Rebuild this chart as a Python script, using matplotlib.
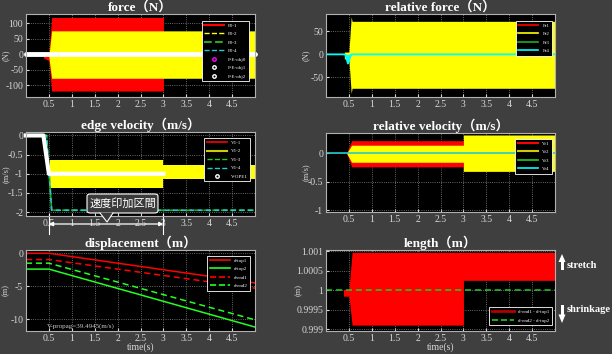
import matplotlib
matplotlib.use('Agg')
import matplotlib.pyplot as plt
import numpy as np
from matplotlib.transforms import blended_transform_factory
from matplotlib.patches import Polygon, FancyBboxPatch
from matplotlib.lines import Line2D

# ---------------- data ----------------
xticks = [0.5, 1, 1.5, 2, 2.5, 3, 3.5, 4, 4.5]
xtick_labels = ['0.5', '1', '1.5', '2', '2.5', '3', '3.5', '4', '4.5']

# force (N): envelopes of the oscillating signals
f_red_t = [0.38, 0.50, 0.56, 3.0]
f_red_hi = [0, 5, 118, 118]
f_red_lo = [-12, -20, -118, -118]
f_yel_t = [0.50, 0.56, 5.0]
f_yel_hi = [-5, 75, 75]
f_yel_lo = [-10, -77, -77]
f_white_t = [0, 5]
f_white_v = [0, 0]
force_yticks = [-100, -50, 0, 50, 100]

# relative force (N)
rf_yel_t = [0.40, 0.50, 0.55, 0.57, 5.0]
rf_yel_hi = [5, 5, 82, 72, 72]
rf_yel_lo = [-10, -10, -85, -74, -74]
rf_cyan_t = [0, 0.42, 0.48, 0.55, 5.0]
rf_cyan_v = [0, 0, -20, 0, 0]
rforce_yticks = [-50, 0, 50]

# edge velocity (m/s)
ev_yel_t = [0.52, 3.0, 3.0, 5.0]
ev_yel_hi = [-0.65, -0.65, -0.78, -0.78]
ev_yel_lo = [-1.37, -1.37, -1.13, -1.13]
ev_cyan_t = [0, 0.45, 0.56, 5.0]
ev_cyan_v = [0, 0, -1.95, -1.95]
ev_white_t = [0, 0.38, 0.50, 3.0, 3.0, 5.0]
ev_white_v = [0, 0, -1.0, -1.0, np.nan, 0]
evel_yticks = [-2, -1.5, -1, -0.5, 0]
evel_yticklabels = ['-2', '-1.5', '-1', '-0.5', '0']

# relative velocity (m/s)
rv_red_t = [0.45, 0.56, 3.0]
rv_red_hi = [0.0, 0.22, 0.22]
rv_red_lo = [0.0, -0.24, -0.24]
rv_yel_t = [0.45, 0.56, 3.0, 3.0, 5.0]
rv_yel_hi = [0.0, 0.14, 0.14, 0.32, 0.32]
rv_yel_lo = [0.0, -0.16, -0.16, -0.32, -0.32]
rv_cyan_t = [0, 5]
rv_cyan_v = [0, 0]
rvel_yticks = [-1, -0.5, 0]
rvel_yticklabels = ['-1', '-0.5', '0']

# displacement (m)
d_t = [0, 0.5, 5.0]
d_top1 = [0.0, 0.0, -4.5]
d_top2 = [-2.4, -2.4, -11.2]
d_end1 = [-0.95, -0.95, -5.3]
d_end2 = [-1.5, -1.5, -10.1]
disp_yticks = [-10, -5, 0]

# length (m)
l_red_t = [0.38, 0.50, 0.57, 3.0, 3.0, 5.0]
l_red_hi = [1.00002, 1.00002, 1.00097, 1.00097, 1.00097, 1.00097]
l_red_lo = [0.99985, 0.99985, 0.99911, 0.99911, 1.000255, 1.000255]
l_green_t = [0, 5]
l_green_v = [1.0, 1.0]
len_yticks = [0.999, 0.9995, 1.0, 1.0005, 1.001]
len_yticklabels = ['0.999', '0.9995', '1', '1.0005', '1.001']

# ---------------- figure ----------------
BG = '#3f3f3f'
SERIF = ['Liberation Serif', 'Noto Sans CJK JP']
fig = plt.figure(figsize=(6.12, 3.54), dpi=100, facecolor=BG)


def px_axes(l, t, r, b):
    return fig.add_axes([l / 612, (354 - b) / 354, (r - l) / 612, (b - t) / 354])


def style(ax, ylim, yticks, yticklabels, title, ylabel, ylabel_x, xlabel=None):
    ax.set_facecolor('black')
    ax.set_xlim(0, 5)
    ax.set_ylim(*ylim)
    ax.set_xticks(xticks)
    ax.set_xticklabels(xtick_labels)
    ax.set_yticks(yticks)
    ax.set_yticklabels(yticklabels if yticklabels is not None else [str(v) for v in yticks])
    ax.set_axisbelow(True)
    ax.grid(True, color='#8a8a8a', linestyle=':', linewidth=0.6)
    ax.tick_params(colors='#d8d8d8', labelsize=7, direction='in', length=2, pad=2)
    for lbl in ax.get_xticklabels() + ax.get_yticklabels():
        lbl.set_fontfamily(SERIF)
    for s in ax.spines.values():
        s.set_color('#b0b0b0')
        s.set_linewidth(0.8)
    ax.set_title(title, color='white', fontsize=9.5, fontweight='bold',
                 family=SERIF, pad=1.5)
    ax.text(ylabel_x, 0.5, ylabel, transform=ax.transAxes, rotation=90,
            color='#d8d8d8', fontsize=6, family=SERIF, ha='center', va='center')
    if xlabel:
        ax.set_xlabel(xlabel, color='#d8d8d8', fontsize=7, family=SERIF, labelpad=0)


def legend(ax, handles, labels, loc, anchor):
    lg = ax.legend(handles, labels, loc=loc, bbox_to_anchor=anchor,
                   facecolor='black', edgecolor='white', framealpha=1,
                   labelcolor='white', handlelength=4.0, borderpad=0.5,
                   labelspacing=0.8, fancybox=False,
                   prop={'family': 'Liberation Serif', 'size': 3.6})
    lg.get_frame().set_linewidth(0.6)
    return lg


# ----- force -----
ax1 = px_axes(26, 14, 255, 97)
ax1.fill_between(f_red_t, f_red_lo, f_red_hi, color='red', lw=0)
ax1.fill_between(f_yel_t, f_yel_lo, f_yel_hi, color='yellow', lw=0)
ax1.plot(f_white_t, f_white_v, color='white', lw=3.5, solid_capstyle='round', clip_on=False)
style(ax1, (-137, 129), force_yticks, None, 'force（N）', '(N)', -0.088)
hs = [Line2D([], [], color='red', lw=1.5),
      Line2D([], [], color='yellow', lw=1, ls='--'),
      Line2D([], [], color='#22aa22', lw=1.5, ls='--'),
      Line2D([], [], color='#22cccc', lw=1, ls='--'),
      Line2D([], [], color='magenta', lw=0, marker='o', ms=2.5, mfc='none'),
      Line2D([], [], color='white', lw=0, marker='o', ms=2.5, mfc='none'),
      Line2D([], [], color='white', lw=0, marker='o', ms=2.5, mfc='none')]
legend(ax1, hs, ['F0-1', 'F0-2', 'F0-3', 'F0-4', 'F-E-obj0', 'F-E-obj1', 'F-E-obj2'],
       'upper right', (0.985, 0.95))

# ----- relative force -----
ax2 = px_axes(326, 14, 555, 97)
ax2.fill_between(rf_yel_t, rf_yel_lo, rf_yel_hi, color='yellow', lw=0)
ax2.plot(rf_cyan_t, rf_cyan_v, color='cyan', lw=1.3)
ax2.fill_between(rf_cyan_t, rf_cyan_v, 0, color='cyan', lw=0)
style(ax2, (-93, 88), rforce_yticks, None, 'relative force（N）', '(N)', -0.09)
hs = [Line2D([], [], color='red', lw=1.2),
      Line2D([], [], color='yellow', lw=1.2),
      Line2D([], [], color='#22aa22', lw=1.2),
      Line2D([], [], color='cyan', lw=1.2)]
legend(ax2, hs, ['Fr1', 'Fr2', 'Fr3', 'Fr4'], 'upper right', (0.997, 0.95))

# ----- edge velocity -----
ax3 = px_axes(26, 132, 255, 216)
ax3.fill_between(ev_yel_t, ev_yel_lo, ev_yel_hi, color='yellow', lw=0)
ax3.plot(ev_cyan_t, ev_cyan_v, color='#22aa22', lw=1.2, ls='--')
ax3.plot(ev_cyan_t, ev_cyan_v, color='#22cccc', lw=1.2, ls='--', dashes=(3, 2))
ax3.plot(ev_white_t, ev_white_v, color='white', lw=3, clip_on=False)
style(ax3, (-2.1, 0.09), evel_yticks, evel_yticklabels, 'edge velocity（m/s）', '(m/s)', -0.088)
hs = [Line2D([], [], color='red', lw=1.2),
      Line2D([], [], color='#cccc00', lw=1.5),
      Line2D([], [], color='#22cc22', lw=1, ls='--'),
      Line2D([], [], color='#22cccc', lw=1, ls='--'),
      Line2D([], [], color='white', lw=0, marker='o', ms=2.5, mfc='none')]
legend(ax3, hs, ['V1-1', 'V1-2', 'V1-3', 'V1-4', 'V-OPE1'], 'upper right', (0.99, 0.96))


def fx(x):
    return x / 612


def fy(y):
    return (354 - y) / 354


# annotation: box + pointer + double arrow
box = FancyBboxPatch((fx(87), fy(213)), fx(158) - fx(87), fy(194) - fy(213),
                     boxstyle='round,pad=0,rounding_size=0.006', transform=fig.transFigure,
                     fc='#3a3a3a', ec='white', lw=0.8, zorder=10)
fig.add_artist(box)
tri = Polygon([[fx(100), fy(212.6)], [fx(113), fy(212.6)], [fx(107), fy(222)]],
              closed=True, transform=fig.transFigure, fc='#3a3a3a', ec='none', zorder=11)
fig.add_artist(tri)
fig.add_artist(Line2D([fx(100), fx(107), fx(113)], [fy(213), fy(222), fy(213)],
                      transform=fig.transFigure, color='white', lw=0.8, zorder=12))
fig.text(fx(122.5), fy(203.5), '速度印加区間', color='white', fontsize=8,
         family=['Noto Sans CJK JP'], ha='center', va='center', zorder=13)
bt = blended_transform_factory(ax3.transData, fig.transFigure)
ax3.annotate('', xy=(3.0, fy(224)), xytext=(0.5, fy(224)), xycoords=bt, textcoords=bt,
             arrowprops=dict(arrowstyle='<|-|>', color='white', lw=0.9,
                             mutation_scale=6, shrinkA=0, shrinkB=0),
             annotation_clip=False)
for xv in [0.5, 3.0]:
    ax3.add_line(Line2D([xv, xv], [fy(214), fy(234)], transform=bt, color='white',
                        lw=0.8, clip_on=False))

# ----- relative velocity -----
ax4 = px_axes(326, 133, 555, 212)
ax4.fill_between(rv_red_t, rv_red_lo, rv_red_hi, color='red', lw=0)
ax4.fill_between(rv_yel_t, rv_yel_lo, rv_yel_hi, color='yellow', lw=0)
ax4.plot(rv_cyan_t, rv_cyan_v, color='#22cccc', lw=1.2)
style(ax4, (-1.035, 0.355), rvel_yticks, rvel_yticklabels, 'relative velocity（m/s）', '(m/s)', -0.09)
hs = [Line2D([], [], color='red', lw=1.5),
      Line2D([], [], color='#cccc00', lw=1.5),
      Line2D([], [], color='#22cc22', lw=1.2),
      Line2D([], [], color='cyan', lw=1.2)]
legend(ax4, hs, ['Vr1', 'Vr2', 'Vr3', 'Vr4'], 'upper right', (0.997, 0.96))

# ----- displacement -----
ax5 = px_axes(26, 250, 255, 331)
ax5.plot(d_t, d_top1, color='red', lw=1.1)
ax5.plot(d_t, d_top2, color='#22ff22', lw=1.1)
ax5.plot(d_t, d_end1, color='red', lw=1.1, ls='--', dashes=(4, 2.5))
ax5.plot(d_t, d_end2, color='#22ff22', lw=1.1, ls='--', dashes=(4, 2.5))
style(ax5, (-11.8, 0.5), disp_yticks, None, 'displacement（m）', '(m)', -0.088, 'time(s)')
hs = [Line2D([], [], color='red', lw=1.2),
      Line2D([], [], color='#22ff22', lw=1.2),
      Line2D([], [], color='red', lw=1.2, ls='--'),
      Line2D([], [], color='#22ff22', lw=1.2, ls='--')]
legend(ax5, hs, ['d-top1', 'd-top2', 'd-end1', 'd-end2'], 'upper right', (0.99, 0.96))
ax5.text(0.45, -11.1, 'V-propag=39.4945(m/s)', color='#cccccc', fontsize=5,
         family=SERIF, va='center', ha='left')

# ----- length -----
ax6 = px_axes(326, 250, 555, 331)
ax6.fill_between(l_red_t, l_red_lo, l_red_hi, color='red', lw=0)
ax6.plot(l_green_t, l_green_v, color='#22cc22', lw=1.1, ls='--', dashes=(4, 2.5))
style(ax6, (0.99896, 1.00103), len_yticks, len_yticklabels, 'length（m）', '(m)', -0.12, 'time(s)')
hs = [Line2D([], [], color='#b00000', lw=2),
      Line2D([], [], color='#22cc22', lw=1.2, ls='--')]
lg = ax6.legend(hs, ['d-end1 - d-top1', 'd-end2 - d-top2'], loc='lower right',
                bbox_to_anchor=(0.997, 0.04), facecolor='black', edgecolor='white',
                framealpha=1, labelcolor='white', handlelength=4.5, borderpad=0.5,
                labelspacing=0.9, fancybox=False,
                prop={'family': 'Liberation Serif', 'size': 3.6})
lg.get_frame().set_linewidth(0.6)

# stretch / shrinkage arrows
fig.add_artist(Polygon([[fx(558.5), fy(262)], [fx(562), fy(254)], [fx(565.5), fy(262)]],
                       closed=True, transform=fig.transFigure, fc='white', ec='none'))
fig.add_artist(Polygon([[fx(560.5), fy(261.5)], [fx(563.5), fy(261.5)],
                        [fx(563.5), fy(270)], [fx(560.5), fy(270)]],
                       closed=True, transform=fig.transFigure, fc='white', ec='none'))
fig.text(fx(567), fy(266), 'stretch', color='white', fontsize=7.5, fontweight='bold',
         family=SERIF, va='center', ha='left')
fig.add_artist(Polygon([[fx(560.5), fy(305)], [fx(563.5), fy(305)],
                        [fx(563.5), fy(315)], [fx(560.5), fy(315)]],
                       closed=True, transform=fig.transFigure, fc='white', ec='none'))
fig.add_artist(Polygon([[fx(558.5), fy(314.5)], [fx(565.5), fy(314.5)], [fx(562), fy(323)]],
                       closed=True, transform=fig.transFigure, fc='white', ec='none'))
fig.text(fx(567), fy(310), 'shrinkage', color='white', fontsize=7.5, fontweight='bold',
         family=SERIF, va='center', ha='left')

fig.savefig('out.png', dpi=100, facecolor=BG)
